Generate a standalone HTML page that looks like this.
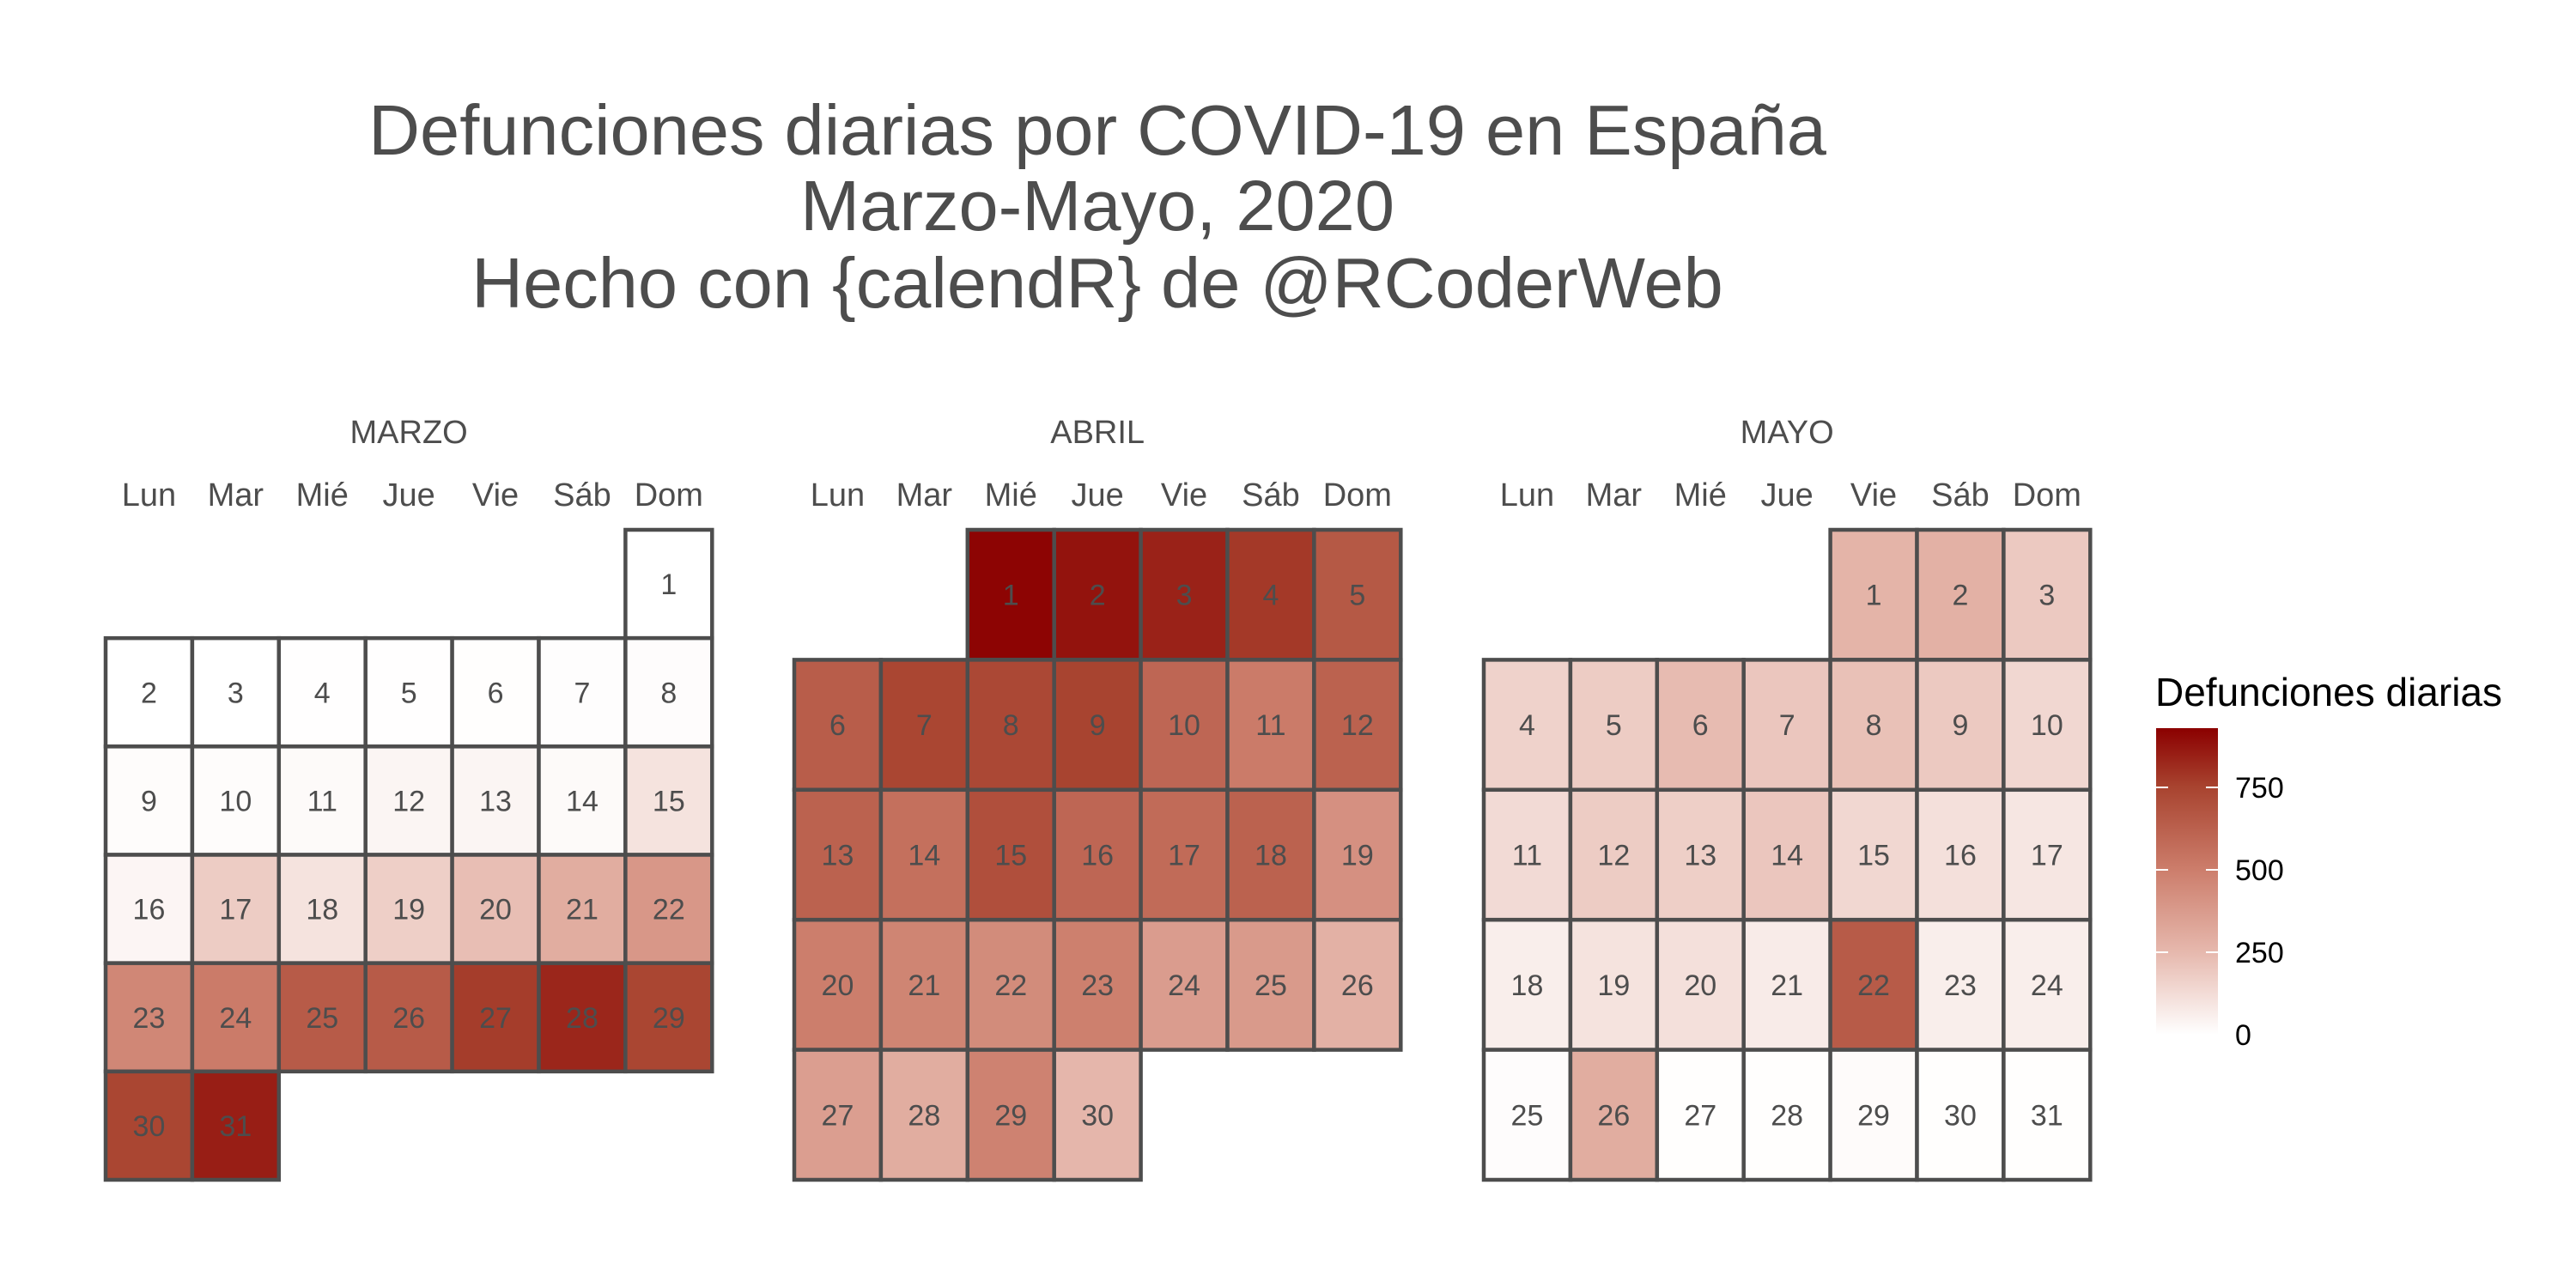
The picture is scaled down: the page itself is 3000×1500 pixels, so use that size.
<!DOCTYPE html>
<html><head><meta charset="utf-8"><style>
html,body{margin:0;padding:0;background:#fff;}
svg{display:block;font-family:"Liberation Sans",sans-serif;}
</style></head><body>
<svg id="chart" width="3000" height="1500" viewBox="0 0 3000 1500">
<defs><linearGradient id="lg" x1="0" y1="1" x2="0" y2="0">
<stop offset="0" stop-color="#ffffff"/><stop offset="0.27" stop-color="#e6b8ad"/><stop offset="0.54" stop-color="#cc7d6b"/><stop offset="0.81" stop-color="#a8432f"/><stop offset="1" stop-color="#8b0000"/></linearGradient></defs>
<g fill="#4d4d4d" font-size="83" text-anchor="middle">
<text x="1278" y="180">Defunciones diarias por COVID-19 en España</text>
<text x="1278" y="268">Marzo-Mayo, 2020</text>
<text x="1278" y="358">Hecho con {calendR} de @RCoderWeb</text>
</g>
<g id="months"></g>
<g>
<text x="2510" y="822" font-size="46" fill="#000">Defunciones diarias</text>
<rect x="2511" y="848" width="72" height="357" fill="url(#lg)"/>
<g id="legticks"></g>
</g>
</svg>
<script>
const monthNames = ["MARZO","ABRIL","MAYO"];
const dayNames = ["Lun","Mar","Mié","Jue","Vie","Sáb","Dom"];
const startWeekday = [6,2,4];
const marchValues = [0,0,1,2,3,5,7,10,11,12,19,36,37,17,100,34,180,100,170,230,300,390,460,510,650,650,770,830,740,740,850];
const aprilValues = [920,880,840,780,660,640,740,730,750,600,510,620,620,560,700,600,580,620,420,500,470,440,490,370,380,280,360,300,480,260];
const mayValues = [270,280,190,160,180,240,200,220,190,140,130,180,170,200,140,110,90,60,100,110,70,650,60,60,10,300,5,5,15,5,5];
const legendTicks = [0,250,500,750];
const vmax = 930;
const monthData = [marchValues, aprilValues, mayValues];
const NS = "http://www.w3.org/2000/svg";
const stops=[[0,[255,255,255]],[0.27,[230,184,173]],[0.54,[204,125,107]],[0.81,[168,67,47]],[1,[139,0,0]]];
function color(v){const t=Math.max(0,Math.min(1,v/vmax));
 for(let i=1;i<stops.length;i++){if(t<=stops[i][0]){const a=stops[i-1],b=stops[i];const f=(t-a[0])/(b[0]-a[0]);
  const c=a[1].map((x,k)=>Math.round(x+(b[1][k]-x)*f));return `rgb(${c[0]},${c[1]},${c[2]})`;}}
 return "rgb(139,0,0)";}
function el(tag,attrs,parent){const e=document.createElementNS(NS,tag);for(const k in attrs)e.setAttribute(k,attrs[k]);parent.appendChild(e);return e;}
const lefts=[123,925,1728], colW=100.9, gridTop=617, gridBottom=1374;
const mgroup=document.getElementById("months");
monthData.forEach((vals,mi)=>{
 const mg=el("g",{},mgroup);
 
 
 const x0=lefts[mi];
 const t=el("text",{x:x0+colW*3.5,y:516,"font-size":38,fill:"#4d4d4d","text-anchor":"middle"},mg);t.textContent=monthNames[mi];
 
 
 dayNames.forEach((d,i)=>{const dt=el("text",{x:x0+colW*(i+0.5),y:589,"font-size":38,fill:"#4d4d4d","text-anchor":"middle"},mg);dt.textContent=d;
  
  });
 const rows=Math.ceil((startWeekday[mi]+vals.length)/7);
 const rowH=(gridBottom-gridTop)/rows;
 vals.forEach((v,i)=>{const p=startWeekday[mi]+i;const c=p%7,r=Math.floor(p/7);
  const x=x0+c*colW,y=gridTop+r*rowH;
  const rect=el("rect",{x:x,y:y,width:colW,height:rowH,fill:color(v),stroke:"#4d4d4d","stroke-width":4.5},mg);
  
  
  const tx=el("text",{x:x+colW/2,y:y+rowH/2+12,"font-size":34,fill:"#4d4d4d","text-anchor":"middle"},mg);tx.textContent=i+1;
  
  
 });
});
const lt=document.getElementById("legticks");
legendTicks.forEach(v=>{const y=1205-(v/250)*96;
 if(v>0){el("line",{x1:2511,x2:2525,y1:y,y2:y,stroke:"#fff","stroke-width":2},lt);el("line",{x1:2569,x2:2583,y1:y,y2:y,stroke:"#fff","stroke-width":2},lt);}
 const tx=el("text",{x:2603,y:y+12,"font-size":34,fill:"#000"},lt);tx.textContent=v;
 
 
});
</script>
</body></html>
